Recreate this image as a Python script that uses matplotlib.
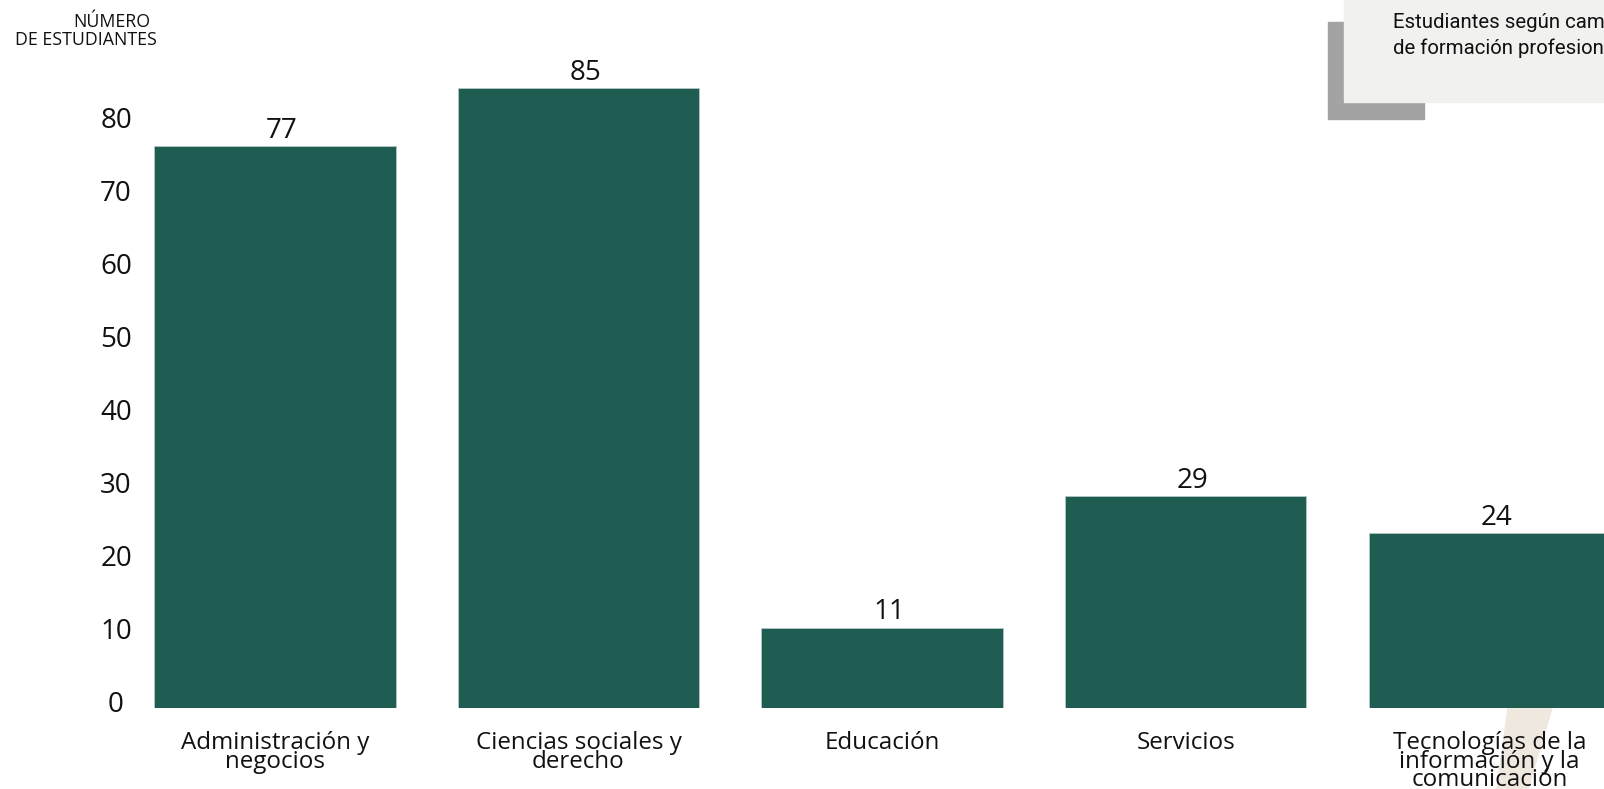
import matplotlib
matplotlib.use("Agg")
import matplotlib.pyplot as plt
from matplotlib.patches import Rectangle, Polygon
from matplotlib.transforms import ScaledTranslation

plt.rcParams['font.family'] = ['Open Sans', 'DejaVu Sans']

# datos
categorias = [
    "Administración y\nnegocios",
    "Ciencias sociales y\nderecho",
    "Educación",
    "Servicios",
    "Tecnologías de la\ninformación y la\ncomunicación",
]
estudiantes = [77, 85, 11, 29, 24]
y_ticks = [0, 10, 20, 30, 40, 50, 60, 70, 80]
titulo = "Estudiantes según campo\nde formación profesional"

W, H = 1604, 789
VERDE = "#1f5d52"


def fx(px):
    return px / W


def fy(py):
    return 1 - py / H


def main():
    fig = plt.figure(figsize=(W / 100, H / 100), dpi=100)
    ax = fig.add_axes([fx(123), 81 / H, fx(W - 123), 656.5 / H])
    ax.patch.set_visible(False)

    x = list(range(len(categorias)))
    ax.bar(x, estudiantes, width=0.795, color=VERDE, edgecolor="#b3c8c5", linewidth=0.6)
    for i, v in zip(x, estudiantes):
        ax.annotate(str(v), (i, v), xytext=(5, 6), textcoords="offset points",
                    ha="center", va="baseline", fontsize=20, color="#111111")

    ax.set_xlim(-0.5, (W - 275) / 303.6)
    ax.set_ylim(0, 90)
    for s in ax.spines.values():
        s.set_visible(False)

    ax.set_xticks(x)
    ax.set_xticklabels(categorias, fontsize=17.4, linespacing=0.7, color="#111111")
    ax.tick_params(axis="x", length=0, pad=16.5)

    ax.set_yticks(y_ticks)
    ax.tick_params(axis="y", length=0, pad=5, labelsize=20, labelcolor="#111111")
    shift = ScaledTranslation(0, 7 / 100, fig.dpi_scale_trans)
    for lbl in ax.get_yticklabels():
        lbl.set_horizontalalignment("center")
        lbl.set_transform(lbl.get_transform() + shift)

    # etiqueta del eje
    fig.text(fx(150), fy(26.7), "NÚMERO", ha="right", va="baseline", fontsize=12.8, color="#111111")
    fig.text(fx(157), fy(45), "DE ESTUDIANTES", ha="right", va="baseline", fontsize=12.8, color="#111111")

    # caja del título
    fig.patches.append(Rectangle((fx(1328), fy(119)), fx(1424 - 1328), 97 / H,
                                 transform=fig.transFigure, color="#a3a3a3", zorder=1))
    fig.patches.append(Rectangle((fx(1344), fy(102)), fx(300), 102 / H,
                                 transform=fig.transFigure, color="#f1f1f0", zorder=2))
    fig.text(fx(1393), fy(54), titulo, ha="left", va="baseline", fontsize=14.7,
             family=["Roboto", "DejaVu Sans"], linespacing=1.45, color="#111111", zorder=3)

    # trazo decorativo
    pts = [(1508, 708), (1552, 708), (1528, 789), (1497, 789)]
    fig.patches.append(Polygon([(fx(a), fy(b)) for a, b in pts], closed=True,
                               transform=fig.transFigure, color="#efe8df", zorder=-1))

    fig.savefig("out.png", dpi=100)
    plt.close(fig)


if __name__ == "__main__":
    main()
